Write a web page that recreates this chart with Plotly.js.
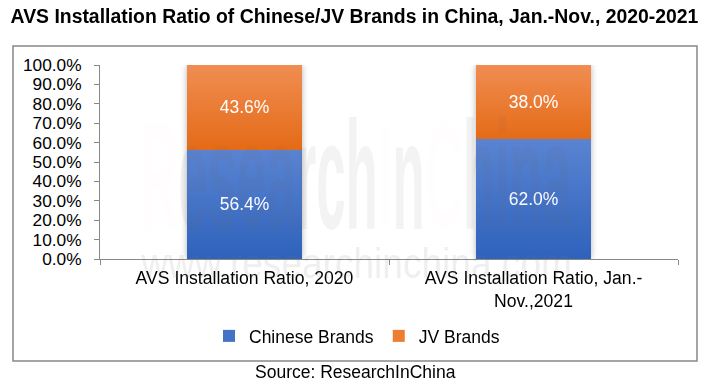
<!DOCTYPE html>
<html><head><meta charset="utf-8">
<script src="https://cdn.plot.ly/plotly-3.0.1.min.js"></script>
<style>html,body{margin:0;padding:0;background:#fff}#chart{width:709px;height:388px}</style>
</head><body><div id="chart"></div>
<script>
// ---- data ----
const categories = ["AVS Installation Ratio, 2020", "AVS Installation Ratio, Jan.-<br>Nov.,2021"];
const chineseBrands = [56.4, 62.0];
const jvBrands = [43.6, 38.0];
const seriesNames = ["Chinese Brands", "JV Brands"];
const yTickVals = [0, 10, 20, 30, 40, 50, 60, 70, 80, 90, 100];
const yTickLabels = ["0.0%", "10.0%", "20.0%", "30.0%", "40.0%", "50.0%", "60.0%", "70.0%", "80.0%", "90.0%", "100.0%"];
const titleText = "AVS Installation Ratio of Chinese/JV Brands in China, Jan.-Nov., 2020-2021";
const sourceText = "Source: ResearchInChina";

const FONT = "Liberation Sans, Arial, sans-serif";
const L = 100, R = 31, T = 65, B = 129, W = 709, H = 388;
const PW = W - L - R, PH = H - T - B;
const px = x => (x - L) / PW;          // pixel -> paper x
const py = y => (H - B - y) / PH;      // pixel -> paper y

const traces = [
  {type: 'bar', name: seriesNames[0], x: categories, y: chineseBrands, width: 0.4,
   marker: {color: '#4472C4', line: {width: 0}},
   texttemplate: '%{y:.1f}%', textposition: 'inside', insidetextanchor: 'middle', textangle: 0,
   textfont: {color: '#ffffff', size: 17.5, family: FONT}, hoverinfo: 'skip'},
  {type: 'bar', name: seriesNames[1], x: categories, y: jvBrands, width: 0.4,
   marker: {color: '#ED7D31', line: {width: 0}},
   texttemplate: '%{y:.1f}%', textposition: 'inside', insidetextanchor: 'middle', textangle: 0,
   textfont: {color: '#ffffff', size: 17.5, family: FONT}, hoverinfo: 'skip'}
];

const layout = {
  width: W, height: H,
  margin: {l: L, r: R, t: T, b: B},
  paper_bgcolor: '#ffffff', plot_bgcolor: '#ffffff',
  barmode: 'stack',
  showlegend: true,
  font: {family: FONT, color: '#000000', size: 17.5},
  title: {text: '<b>' + titleText + '</b>', font: {family: FONT, size: 19.4, color: '#000'},
          x: 0.5, xanchor: 'center', xref: 'container', y: 1 - 16 / H, yanchor: 'middle', yref: 'container'},
  xaxis: {type: 'category', showline: true, linecolor: '#888888', linewidth: 1,
          ticks: 'outside', tickson: 'boundaries', ticklen: 5, tickcolor: '#888888',
          showgrid: false, zeroline: false, tickfont: {size: 17.6, family: FONT, color: '#000'},
          ticklabelstandoff: 3, fixedrange: true},
  yaxis: {range: [0, 100], tickmode: 'array', tickvals: yTickVals, ticktext: yTickLabels,
          showline: true, linecolor: '#888888', linewidth: 1,
          ticks: 'outside', ticklen: 5, tickcolor: '#888888',
          showgrid: false, zeroline: false, tickfont: {size: 17.3, family: FONT, color: '#000'},
          ticklabelstandoff: 9, fixedrange: true},
  legend: {orientation: 'h', x: px(357), xanchor: 'center', y: py(336), yanchor: 'middle',
           font: {size: 17.5, family: FONT, color: '#000'}, traceorder: 'normal', itemwidth: 30},
  shapes: [
    {type: 'rect', xref: 'paper', yref: 'paper', x0: px(13), x1: px(697), y0: py(361), y1: py(46),
     line: {color: '#888888', width: 1.5}, fillcolor: 'rgba(0,0,0,0)', layer: 'below'}
  ],
  annotations: [
    {xref: 'paper', yref: 'paper', x: px(355), y: py(372), text: sourceText, showarrow: false,
     xanchor: 'center', yanchor: 'middle', font: {size: 17.5, family: FONT, color: '#000'}},
    {xref: 'paper', yref: 'paper', x: px(356), y: py(175), showarrow: false, xanchor: 'center', yanchor: 'middle',
     text: '<span style="color:rgba(215,60,60,0.10)">R</span>esearch<span style="color:rgba(215,60,60,0.10)">I</span>n<span style="color:rgba(215,60,60,0.10)">C</span>hina',
     font: {size: 60, family: FONT, weight: 700, color: 'rgba(120,100,100,0.08)'}},
    {xref: 'paper', yref: 'paper', x: px(356), y: py(264), showarrow: false, xanchor: 'center', yanchor: 'middle',
     text: 'www.researchinchina.com', font: {size: 30, family: FONT, color: 'rgba(120,120,120,0.12)'}}
  ]
};

function fitInk(textEl, x0, y0, x1, y1) {
  // fit glyph ink (cap/ascender height to baseline) into target pixel box
  const bb = textEl.getBBox();
  const P = textEl.parentNode.getCTM();
  const asc = 0.905, desc = 0.212, cap = 0.716, tot = asc + desc;
  const inkH = y1 - y0;
  const fullH = inkH * tot / cap;
  const top = y0 - inkH * (asc - cap) / cap;
  const sx = (x1 - x0) / bb.width, sy = fullH / bb.height;
  const tx = (x0 - P.e) - sx * bb.x, ty = (top - P.f) - sy * bb.y;
  textEl.setAttribute('transform', `matrix(${sx},0,0,${sy},${tx},${ty})`);
}

Plotly.newPlot('chart', traces, layout, {staticPlot: true}).then(gd => {
  const svg = gd.querySelector('.main-svg');
  const defs = svg.querySelector('defs');
  const NS = 'http://www.w3.org/2000/svg';
  function grad(id, c1, c2) {
    const g = document.createElementNS(NS, 'linearGradient');
    g.setAttribute('id', id); g.setAttribute('x1', '0'); g.setAttribute('y1', '0');
    g.setAttribute('x2', '0'); g.setAttribute('y2', '1');
    [[0, c1], [1, c2]].forEach(([o, c]) => {
      const s = document.createElementNS(NS, 'stop');
      s.setAttribute('offset', o); s.setAttribute('stop-color', c); g.appendChild(s);
    });
    defs.appendChild(g);
  }
  grad('gBlue', '#5a84d2', '#2e62bb');
  grad('gOrange', '#f08d52', '#e46b17');
  const tr = gd.querySelectorAll('.barlayer .trace');
  const fills = ['url(#gBlue)', 'url(#gOrange)'];
  tr.forEach((t, i) => {
    t.querySelectorAll('.point path').forEach(p => { p.style.fill = fills[i]; });
  });
  const bars = gd.querySelector('.barlayer');
  if (bars) bars.style.filter = 'drop-shadow(0px 0px 3px rgba(0,0,0,0.30))';
  const ann = gd.querySelectorAll('.annotation');
  ann.forEach(a => {
    const idx = a.getAttribute('data-index');
    const t = a.querySelector('text');
    if (!t) return;
    if (idx === '1') fitInk(t, 140, 120, 572, 230);
    if (idx === '2') fitInk(t, 140, 248, 572, 278);
  });
});
</script>
</body></html>
